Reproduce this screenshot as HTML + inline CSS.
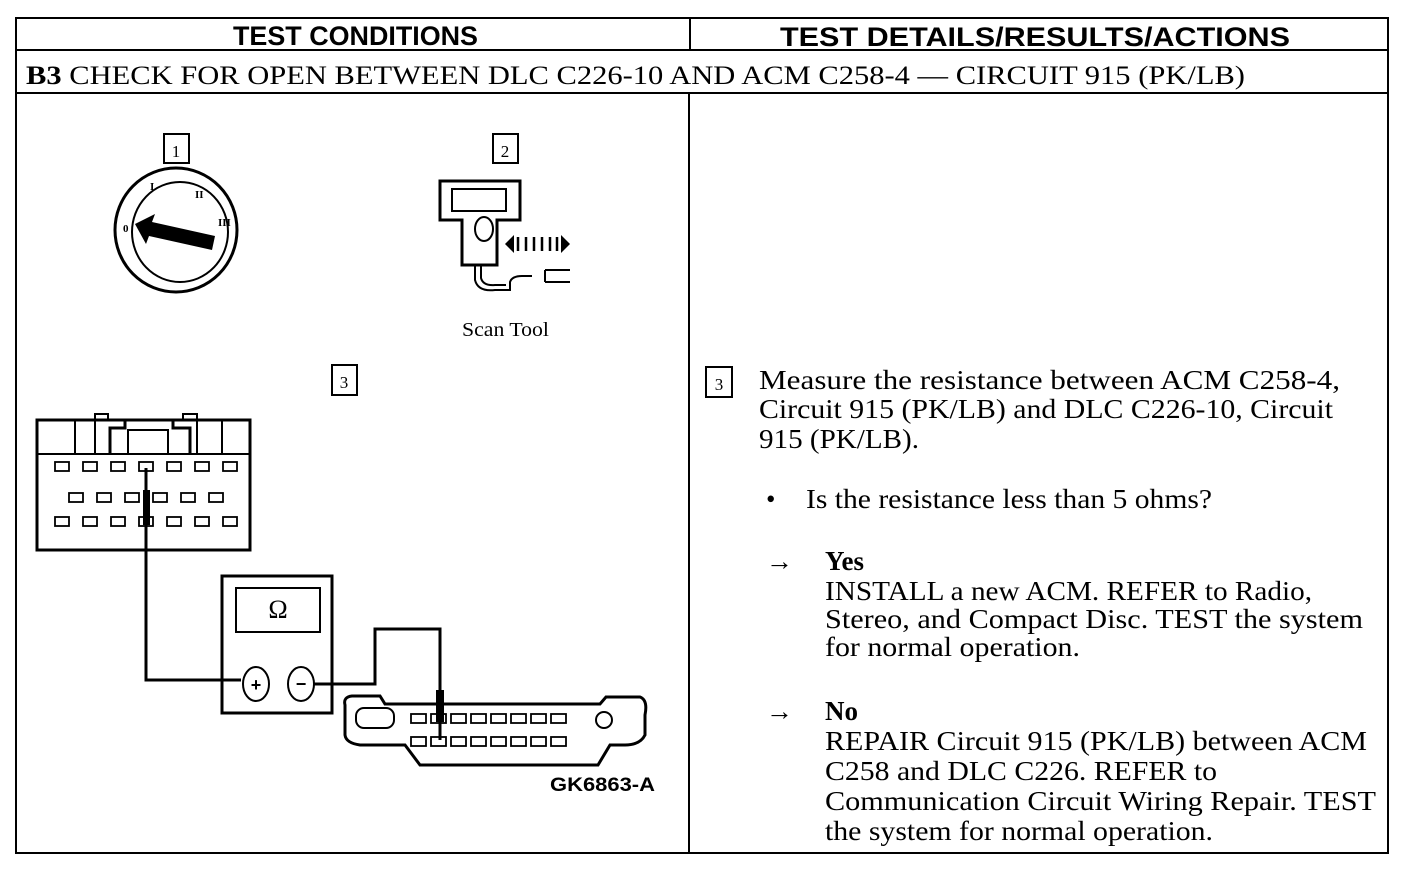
<!DOCTYPE html>
<html><head><style>
body{margin:0;background:#fff;}
svg{display:block}
.s{font-family:"Liberation Serif",serif;fill:#000}
.h{font-family:"Liberation Sans",sans-serif;font-weight:bold;fill:#000}
</style></head><body>
<svg width="1408" height="874" viewBox="0 0 1408 874" xmlns="http://www.w3.org/2000/svg">
<g fill="none" stroke="#000" stroke-width="2">
<rect x="16" y="18" width="1372" height="835"/>
<line x1="16" y1="50" x2="1388" y2="50"/>
<line x1="16" y1="93" x2="1388" y2="93"/>
<line x1="690" y1="18" x2="690" y2="50"/>
<line x1="689" y1="93" x2="689" y2="853"/>
</g>
<text class="h" x="233" y="45" font-size="27" textLength="245" lengthAdjust="spacingAndGlyphs">TEST CONDITIONS</text>
<text class="h" x="780" y="46" font-size="27" textLength="510" lengthAdjust="spacingAndGlyphs">TEST DETAILS/RESULTS/ACTIONS</text>
<text class="s" x="26" y="84" font-size="26" textLength="1219" lengthAdjust="spacingAndGlyphs"><tspan font-weight="bold">B3</tspan>  CHECK FOR OPEN BETWEEN DLC C226-10 AND ACM C258-4 — CIRCUIT 915 (PK/LB)</text>

<g fill="none" stroke="#000" stroke-width="2">
<rect x="164" y="134" width="25" height="29"/>
<rect x="493" y="134" width="25" height="29"/>
<rect x="332" y="365" width="25" height="30"/>
<rect x="706" y="367" width="26" height="30"/>
<ellipse cx="176" cy="230" rx="61" ry="62" stroke-width="3"/>
<ellipse cx="180" cy="232" rx="48" ry="50"/>
<path d="M440 181 H520 V220 H497 V265 H462 V220 H440 Z" stroke-width="3"/>
<rect x="452" y="189" width="54" height="22"/>
<ellipse cx="484" cy="229" rx="9" ry="12"/>
<path d="M475 265 V280 Q478 292 495 290 H510 V282 Q512 276 522 276 H532"/>
<path d="M481 265 V278 Q483 286 495 285 H506"/>
<path d="M545 270 H570 M545 282 H570 M545 270 V282"/>
<rect x="37" y="420" width="213" height="130" stroke-width="3"/>
<line x1="37" y1="454" x2="250" y2="454"/>
<path d="M75 420 V454 M222 420 V454"/>
<path d="M95 454 V414 H108 V420 M183 420 V414 H197 V454"/>
<path d="M110 454 V428 H125 V420 H173 V428 H190 V454" stroke-width="3"/>
<rect x="128" y="430" width="40" height="24"/>
</g>
<g fill="none" stroke="#000" stroke-width="1.8">
<rect x="55" y="462" width="14" height="9"/><rect x="83" y="462" width="14" height="9"/><rect x="111" y="462" width="14" height="9"/><rect x="139" y="462" width="14" height="9"/><rect x="167" y="462" width="14" height="9"/><rect x="195" y="462" width="14" height="9"/><rect x="223" y="462" width="14" height="9"/>
<rect x="69" y="493" width="14" height="9"/><rect x="97" y="493" width="14" height="9"/><rect x="125" y="493" width="14" height="9"/><rect x="153" y="493" width="14" height="9"/><rect x="181" y="493" width="14" height="9"/><rect x="209" y="493" width="14" height="9"/>
<rect x="55" y="517" width="14" height="9"/><rect x="83" y="517" width="14" height="9"/><rect x="111" y="517" width="14" height="9"/><rect x="139" y="517" width="14" height="9"/><rect x="167" y="517" width="14" height="9"/><rect x="195" y="517" width="14" height="9"/><rect x="223" y="517" width="14" height="9"/>
</g>
<rect x="143" y="490" width="7" height="35" fill="#000"/>
<g fill="none" stroke="#000" stroke-width="3">
<path d="M146 468 V680 H241"/>
<rect x="222" y="576" width="110" height="137"/>
<rect x="236" y="588" width="84" height="44" stroke-width="2"/>
<ellipse cx="256" cy="684" rx="13" ry="17" stroke-width="2"/>
<ellipse cx="301" cy="684" rx="13" ry="17" stroke-width="2"/>
<path d="M314 684 H375 V629 H440 V740"/>
<path d="M345 705 Q343 697 352 696 H380 L385 704 H600 L606 697 H640 Q648 700 645 715 V735 Q640 745 625 745 H610 L598 765 H420 L405 745 H360 Q346 743 345 735 Z"/>
<rect x="356" y="708" width="38" height="20" rx="8" stroke-width="2"/>
<circle cx="604" cy="720" r="8" stroke-width="2"/>
</g>
<rect x="436" y="690" width="8" height="32" fill="#000"/>
<g fill="none" stroke="#000" stroke-width="1.8">
<rect x="411" y="714" width="15" height="9"/><rect x="431" y="714" width="15" height="9"/><rect x="451" y="714" width="15" height="9"/><rect x="471" y="714" width="15" height="9"/><rect x="491" y="714" width="15" height="9"/><rect x="511" y="714" width="15" height="9"/><rect x="531" y="714" width="15" height="9"/><rect x="551" y="714" width="15" height="9"/>
<rect x="411" y="737" width="15" height="9"/><rect x="431" y="737" width="15" height="9"/><rect x="451" y="737" width="15" height="9"/><rect x="471" y="737" width="15" height="9"/><rect x="491" y="737" width="15" height="9"/><rect x="511" y="737" width="15" height="9"/><rect x="531" y="737" width="15" height="9"/><rect x="551" y="737" width="15" height="9"/>
</g>
<polygon points="135,224 155,214 152,222 215,236 212,250 149,236 146,244" fill="#000"/>
<polygon points="505,244 514,235 514,253" fill="#000"/>
<polygon points="570,244 561,235 561,253" fill="#000"/>
<g stroke="#000" stroke-width="2.5"><path d="M518 237 V251 M526 237 V251 M534 237 V251 M542 237 V251 M550 237 V251 M557 237 V251"/></g>
<g class="s" font-size="11" font-weight="bold">
<text x="123" y="232">0</text><text x="150" y="190">I</text><text x="195" y="198">II</text><text x="218" y="226">III</text>
</g>
<text class="s" x="176" y="157" font-size="17" text-anchor="middle">1</text>
<text class="s" x="505" y="157" font-size="17" text-anchor="middle">2</text>
<text class="s" x="344" y="388" font-size="17" text-anchor="middle">3</text>
<text class="s" x="719" y="390" font-size="17" text-anchor="middle">3</text>
<text class="s" x="462" y="336" font-size="20" textLength="87" lengthAdjust="spacingAndGlyphs">Scan Tool</text>
<text class="s" x="278" y="618" font-size="26" text-anchor="middle">Ω</text>
<text class="h" x="256" y="691" font-size="18" text-anchor="middle">+</text>
<text class="h" x="301" y="690" font-size="18" text-anchor="middle">−</text>
<text class="h" x="550" y="791" font-size="19" font-weight="normal" textLength="105" lengthAdjust="spacingAndGlyphs">GK6863-A</text>
<g class="s" font-size="27">
<text x="759" y="389" textLength="581" lengthAdjust="spacingAndGlyphs">Measure the resistance between ACM C258-4,</text>
<text x="759" y="418" textLength="574" lengthAdjust="spacingAndGlyphs">Circuit 915 (PK/LB) and DLC C226-10, Circuit</text>
<text x="759" y="448" textLength="160" lengthAdjust="spacingAndGlyphs">915 (PK/LB).</text>
<text x="766" y="508">•</text>
<text x="806" y="508" textLength="406" lengthAdjust="spacingAndGlyphs">Is the resistance less than 5 ohms?</text>
<text x="766" y="570">→</text>
<text x="825" y="570" font-weight="bold">Yes</text>
<text x="825" y="600" textLength="487" lengthAdjust="spacingAndGlyphs">INSTALL a new ACM. REFER to Radio,</text>
<text x="825" y="628" textLength="538" lengthAdjust="spacingAndGlyphs">Stereo, and Compact Disc. TEST the system</text>
<text x="825" y="656" textLength="255" lengthAdjust="spacingAndGlyphs">for normal operation.</text>
<text x="766" y="720">→</text>
<text x="825" y="720" font-weight="bold">No</text>
<text x="825" y="750" textLength="542" lengthAdjust="spacingAndGlyphs">REPAIR Circuit 915 (PK/LB) between ACM</text>
<text x="825" y="780" textLength="392" lengthAdjust="spacingAndGlyphs">C258 and DLC C226. REFER to</text>
<text x="825" y="810" textLength="551" lengthAdjust="spacingAndGlyphs">Communication Circuit Wiring Repair. TEST</text>
<text x="825" y="840" textLength="388" lengthAdjust="spacingAndGlyphs">the system for normal operation.</text>
</g>
</svg>
</body></html>
